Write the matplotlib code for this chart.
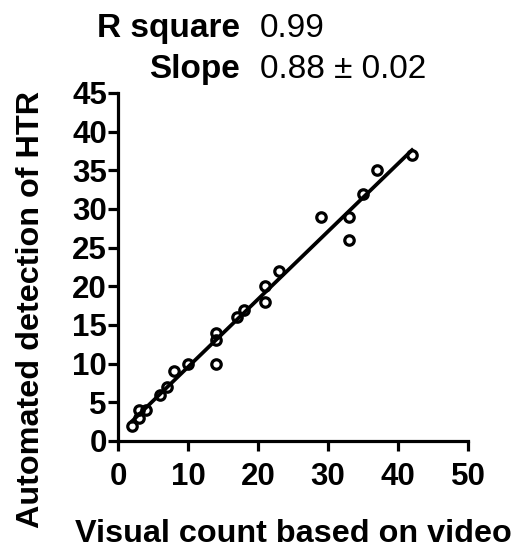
import matplotlib
matplotlib.use("Agg")
import matplotlib.pyplot as plt
import numpy as np

plt.rcParams['font.family'] = ['Liberation Sans', 'DejaVu Sans']

# visual count vs automated detection
visual = [2, 3, 3, 4, 6, 7, 8, 10, 14, 14, 14, 17, 18, 21, 21, 23, 29, 33, 33, 35, 37, 42]
automated = [2, 4, 3, 4, 6, 7, 9, 10, 14, 13, 10, 16, 17, 20, 18, 22, 29, 29, 26, 32, 35, 37]
r_square = "0.99"
slope_txt = "0.88 \u00b1 0.02"

x = np.array(visual, dtype=float)
y = np.array(automated, dtype=float)
k, b = np.polyfit(x, y, 1)

fig = plt.figure(figsize=(5.19, 5.48), dpi=100)
ax = fig.add_axes([118 / 519, 1 - 441 / 548, 350 / 519, 348 / 548])

xs = np.array([x.min(), x.max()])
ax.plot(xs, k * xs + b, color='black', lw=2.7, zorder=2)
ax.plot(x, y, 'o', ms=6.8, mfc='none', mec='black', mew=2.3, zorder=3)

ax.set_xlim(0, 50)
ax.set_ylim(0, 45)
ax.set_xticks(range(0, 51, 10))
ax.set_yticks(range(0, 46, 5))
for s in ['top', 'right']:
    ax.spines[s].set_visible(False)
for s in ['left', 'bottom']:
    ax.spines[s].set_linewidth(2.3)
ax.tick_params(width=2.3, length=7, labelsize=22.5, direction='out')
ax.tick_params(axis='y', pad=1)
ax.tick_params(axis='x', pad=8)
for lab in ax.get_xticklabels() + ax.get_yticklabels():
    lab.set_fontweight('bold')

fig.text(293 / 519, 1 - 542 / 548, 'Visual count based on video',
         fontsize=23.3, fontweight='bold', ha='center', va='baseline')
fig.text(31 / 519, 1 - 309 / 548, 'Automated detection of HTR', rotation=90,
         fontsize=23.3, fontweight='bold', ha='center', va='center')

fig.text(240 / 519, 1 - 37 / 548, 'R square', fontsize=24, fontweight='bold', ha='right', va='baseline')
fig.text(260 / 519, 1 - 37 / 548, r_square, fontsize=24, ha='left', va='baseline')
fig.text(240 / 519, 1 - 78 / 548, 'Slope', fontsize=24, fontweight='bold', ha='right', va='baseline')
fig.text(260 / 519, 1 - 78 / 548, slope_txt, fontsize=24, ha='left', va='baseline')

fig.savefig('out.png', dpi=100)
